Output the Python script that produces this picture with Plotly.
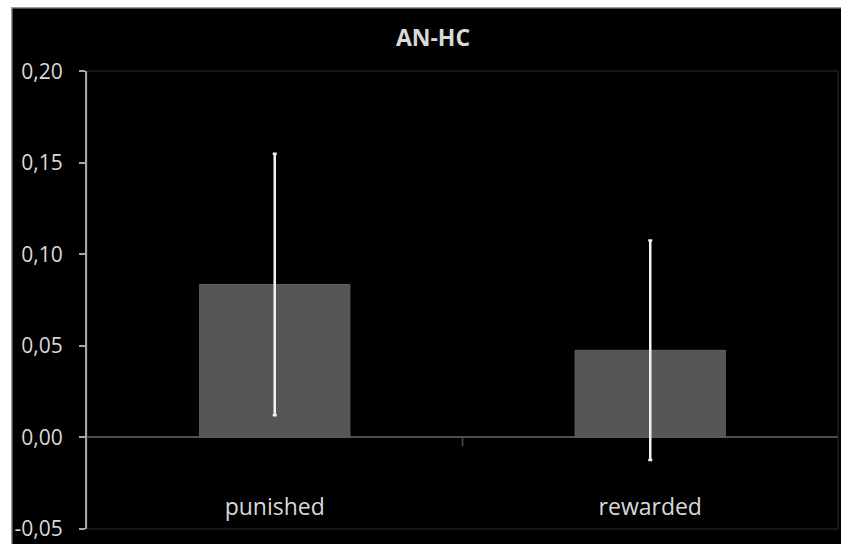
import plotly.graph_objects as go

# Mean differences (AN minus HC) with error margins
categories = ["punished", "rewarded"]
means = [0.0835, 0.0475]
errors = [0.0715, 0.060]

y_tick_values = [-0.05, 0.00, 0.05, 0.10, 0.15, 0.20]
y_tick_labels = ["-0,05", "0,00", "0,05", "0,10", "0,15", "0,20"]

W, H = 841, 544
L, R, T, B = 87, 3, 71, 15
pw, ph = W - L - R, H - T - B


def px_x(p):
    return (p - L) / pw


def px_y(p):
    return (H - B - p) / ph


fig = go.Figure()
fig.add_trace(go.Bar(
    x=categories,
    y=means,
    marker=dict(color="#565656", line=dict(color="#626262", width=1)),
    error_y=dict(type="data", array=errors, visible=True,
                 color="#f2f2f2", thickness=2.5, width=2),
    width=0.4,
    showlegend=False,
))

# white page strips on the left and top, then the chart's light edge
strip = dict(xref="paper", yref="paper", layer="below", line=dict(width=0))
fig.add_shape(type="rect", x0=px_x(0), x1=px_x(11), y0=px_y(H), y1=px_y(0),
              fillcolor="white", **strip)
fig.add_shape(type="rect", x0=px_x(0), x1=px_x(W), y0=px_y(7), y1=px_y(0),
              fillcolor="white", **strip)
fig.add_shape(type="rect", x0=px_x(11), x1=px_x(W), y0=px_y(8.5), y1=px_y(7),
              fillcolor="#9a9a9a", **strip)
fig.add_shape(type="rect", x0=px_x(11), x1=px_x(12.5), y0=px_y(H), y1=px_y(7),
              fillcolor="#9a9a9a", **strip)

# plot-area frame
fig.add_shape(type="rect", xref="paper", yref="paper", layer="below",
              x0=0, x1=1, y0=0, y1=1,
              line=dict(color="#1e1e1e", width=1.5))
# category divider tick below the zero line
fig.add_shape(type="line", xref="x", yref="y", x0=0.5, x1=0.5,
              y0=0, y1=-0.005, line=dict(color="#4d4d4d", width=1.5))

fig.update_layout(
    width=W, height=H,
    margin=dict(l=L, r=R, t=T, b=B),
    paper_bgcolor="black",
    plot_bgcolor="rgba(0,0,0,0)",
    bargap=0.6,
    title=dict(text="<b>AN-HC</b>", x=433 / W, xanchor="center",
               y=1 - 38 / H, yanchor="middle",
               font=dict(family="Open Sans", size=23, color="#d9d9d9")),
    font=dict(family="Open Sans", color="#d9d9d9"),
)
fig.update_xaxes(
    showgrid=False, showline=False, zeroline=False, ticks="",
    ticklabelstandoff=-38,
    tickfont=dict(size=23, color="#d9d9d9"),
)
fig.update_yaxes(
    range=[-0.0502, 0.2002], tickvals=y_tick_values, ticktext=y_tick_labels,
    showgrid=False, showline=True, linecolor="#a6a6a6", linewidth=2,
    ticks="outside", ticklen=6, tickwidth=2, tickcolor="#a6a6a6",
    ticklabelstandoff=12, ticklabeloverflow="allow",
    zeroline=True, zerolinecolor="#4d4d4d", zerolinewidth=1.5,
    tickfont=dict(size=21, color="#d9d9d9"),
)

fig.write_html("out.html")
